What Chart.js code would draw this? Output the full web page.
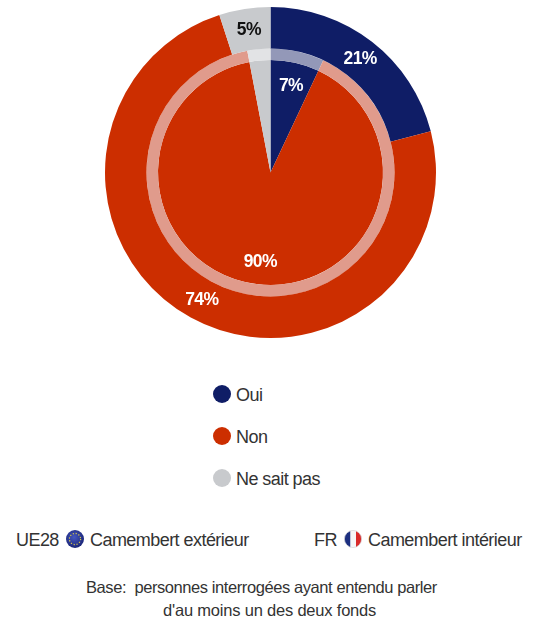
<!DOCTYPE html>
<html lang="fr">
<head>
<meta charset="utf-8">
<title>Camembert</title>
<script src="https://cdn.jsdelivr.net/npm/chart.js@4/dist/chart.umd.min.js"></script>
<style>
    html, body { margin: 0; padding: 0; background: #fff; }
    body { position: relative; width: 533px; height: 621px; overflow: hidden; font-family: "Liberation Sans", sans-serif; color: #333; }
    canvas { position: absolute; left: 0; top: 0; }
    .txt { position: absolute; font-size: 18px; line-height: 22px; white-space: nowrap; letter-spacing: -0.55px; }
    .dot { position: absolute; left: 213px; width: 18px; height: 18px; border-radius: 50%; }
    .flag { position: absolute; top: 530px; }
    .base { position: absolute; white-space: nowrap; font-size: 16.5px; line-height: 22px; }
</style>
</head>
<body>
<canvas id="pie" width="533" height="346"></canvas>
<div id="legend"></div>

<div class="txt" style="left:16px;top:529px">UE28</div>
<svg class="flag" style="left:66px" width="18" height="18" viewBox="0 0 18 18">
    <defs><radialGradient id="eu" cx="45%" cy="40%" r="60%"><stop offset="0" stop-color="#4658c0"/><stop offset="1" stop-color="#1a2578"/></radialGradient></defs>
    <circle cx="9" cy="9" r="9" fill="url(#eu)"/>
    <circle cx="9" cy="9" r="5.6" fill="none" stroke="#d8c84a" stroke-width="1.2" stroke-dasharray="1.2 1.73"/>
</svg>
<div class="txt" style="left:90px;top:529px">Camembert extérieur</div>

<div class="txt" style="left:314px;top:529px">FR</div>
<svg class="flag" style="left:344px" width="18" height="18" viewBox="0 0 18 18">
    <defs><clipPath id="fr"><circle cx="9" cy="9" r="8.6"/></clipPath></defs>
    <g clip-path="url(#fr)">
        <rect x="0" y="0" width="6.5" height="18" fill="#1c2f80"/>
        <rect x="6.5" y="0" width="5.5" height="18" fill="#f6f6f8"/>
        <rect x="12" y="0" width="6" height="18" fill="#d92a2a"/>
    </g>
    <circle cx="9" cy="9" r="8.6" fill="none" stroke="#d5d5da" stroke-width="0.7"/>
</svg>
<div class="txt" style="left:368px;top:529px">Camembert intérieur</div>

<div class="base" style="left:86px;top:576px;letter-spacing:-0.42px">Base:&nbsp; personnes interrogées ayant entendu parler</div>
<div class="base" style="left:163px;top:599px;letter-spacing:-0.2px">d'au moins un des deux fonds</div>

<script>
const categories = ['Oui', 'Non', 'Ne sait pas'];
const outerValues = [21, 74, 5];   // UE28
const innerValues = [7, 90, 3];    // FR
const shownInner = ['7%', '90%', ''];
const shownOuter = ['21%', '74%', '5%'];

const colors = ['#0f1d66', '#cc2e00', '#c8cacd'];
const ringColors = ['#9398b8', '#e09b8c', '#e2e3e5'];
const labelColors = ['#fff', '#fff', '#111'];

// legend under the pie
let legend = document.getElementById('legend');
categories.forEach(function (name, i) {
    let y = 385 + i * 42;
    legend.insertAdjacentHTML('beforeend',
        '<div class="dot" style="top:' + y + 'px;background:' + colors[i] + '"></div>' +
        '<div class="txt" style="left:236px;top:' + (y - 1) + 'px">' + name + '</div>');
});

// writes the percentages on the slices
const sliceLabels = {
    id: 'sliceLabels',
    afterDatasetsDraw(chart) {
        let ctx = chart.ctx;
        ctx.save();
        ctx.font = 'bold 17.5px "Liberation Sans", sans-serif';
        ctx.letterSpacing = '-0.6px';
        ctx.textAlign = 'center';
        ctx.textBaseline = 'middle';
        chart.data.datasets.forEach(function (ds, d) {
            if (!ds.shown) return;
            chart.getDatasetMeta(d).data.forEach(function (arc, i) {
                let a = (arc.startAngle + arc.endAngle) / 2;
                let r = arc.innerRadius > 0 ? (arc.innerRadius + arc.outerRadius) / 2 : arc.outerRadius * 0.795;
                ctx.fillStyle = labelColors[i];
                ctx.fillText(ds.shown[i], arc.x + Math.cos(a) * r + 1, arc.y + Math.sin(a) * r + 1);
            });
        });
        ctx.restore();
    }
};

new Chart(document.getElementById('pie'), {
    type: 'doughnut',
    data: {
        labels: categories,
        datasets: [
            { label: 'UE28', data: outerValues, backgroundColor: colors, weight: 41.5, borderWidth: 0, shown: shownOuter },
            { label: 'anneau', data: innerValues, backgroundColor: ringColors, weight: 11.5, borderWidth: 0 },
            { label: 'FR', data: innerValues, backgroundColor: colors, weight: 112.5, borderWidth: 0, shown: shownInner }
        ]
    },
    options: {
        responsive: false,
        animation: false,
        cutout: 0,
        layout: { padding: { left: 105, right: 97, top: 7, bottom: 8 } },
        plugins: { legend: { display: false }, tooltip: { enabled: false } }
    },
    plugins: [sliceLabels]
});
</script>
</body>
</html>
